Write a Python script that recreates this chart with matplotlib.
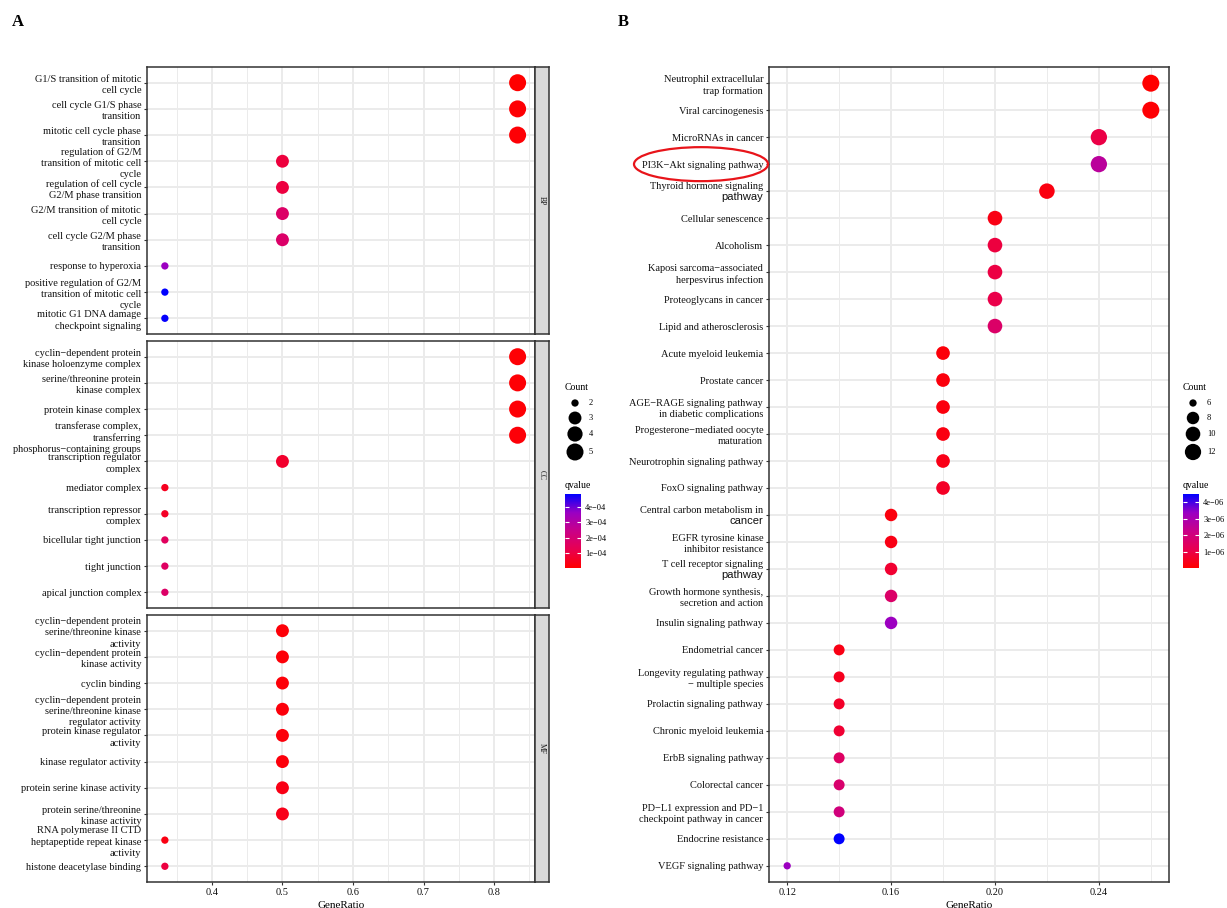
import numpy as np
import matplotlib
matplotlib.use('Agg')
import matplotlib.pyplot as plt
from matplotlib.colors import LinearSegmentedColormap, Normalize
from matplotlib.cm import ScalarMappable
from matplotlib.patches import Ellipse

plt.rcParams['font.family'] = ['Liberation Serif', 'DejaVu Serif']

# ---- A: GO enrichment (BP / CC / MF), 6 genes in total ----
go_total = 6
bp_terms = ["G1/S transition of mitotic\ncell cycle", "cell cycle G1/S phase\ntransition",
            "mitotic cell cycle phase\ntransition", "regulation of G2/M\ntransition of mitotic cell\ncycle",
            "regulation of cell cycle\nG2/M phase transition", "G2/M transition of mitotic\ncell cycle",
            "cell cycle G2/M phase\ntransition", "response to hyperoxia",
            "positive regulation of G2/M\ntransition of mitotic cell\ncycle",
            "mitotic G1 DNA damage\ncheckpoint signaling"]
bp_count = [5, 5, 5, 3, 3, 3, 3, 2, 2, 2]
bp_q = [0.02e-4, 0.08e-4, 0.1e-4, 0.95e-4, 1.0e-4, 1.7e-4, 1.75e-4, 3.6e-4, 4.85e-4, 4.8e-4]

cc_terms = ["cyclin\u2212dependent protein\nkinase holoenzyme complex", "serine/threonine protein\nkinase complex",
            "protein kinase complex", "transferase complex,\ntransferring\nphosphorus\u2212containing groups",
            "transcription regulator\ncomplex", "mediator complex", "transcription repressor\ncomplex",
            "bicellular tight junction", "tight junction", "apical junction complex"]
cc_count = [5, 5, 5, 5, 3, 2, 2, 2, 2, 2]
cc_q = [0.1e-4, 0.1e-4, 0.1e-4, 0.15e-4, 0.7e-4, 0.5e-4, 0.6e-4, 1.5e-4, 1.6e-4, 1.7e-4]

mf_terms = ["cyclin\u2212dependent protein\nserine/threonine kinase\nactivity", "cyclin\u2212dependent protein\nkinase activity",
            "cyclin binding", "cyclin\u2212dependent protein\nserine/threonine kinase\nregulator activity",
            "protein kinase regulator\nactivity", "kinase regulator activity", "protein serine kinase activity",
            "protein serine/threonine\nkinase activity", "RNA polymerase II CTD\nheptapeptide repeat kinase\nactivity",
            "histone deacetylase binding"]
mf_count = [3, 3, 3, 3, 3, 3, 3, 3, 2, 2]
mf_q = [0.15e-4, 0.15e-4, 0.15e-4, 0.2e-4, 0.2e-4, 0.2e-4, 0.35e-4, 0.4e-4, 0.3e-4, 1.0e-4]

go_xticks = [0.4, 0.5, 0.6, 0.7, 0.8]
go_size_breaks = [2, 3, 4, 5]
go_q_breaks = [1e-4, 2e-4, 3e-4, 4e-4]
go_q_labels = ["1e\u221204", "2e\u221204", "3e\u221204", "4e\u221204"]

# ---- B: KEGG enrichment, 50 genes in total ----
kegg_total = 50
kegg_terms = ["Neutrophil extracellular\ntrap formation", "Viral carcinogenesis", "MicroRNAs in cancer",
              "PI3K\u2212Akt signaling pathway", "Thyroid hormone signaling\npathway", "Cellular senescence",
              "Alcoholism", "Kaposi sarcoma\u2212associated\nherpesvirus infection", "Proteoglycans in cancer",
              "Lipid and atherosclerosis", "Acute myeloid leukemia", "Prostate cancer",
              "AGE\u2212RAGE signaling pathway\nin diabetic complications",
              "Progesterone\u2212mediated oocyte\nmaturation", "Neurotrophin signaling pathway",
              "FoxO signaling pathway", "Central carbon metabolism in\ncancer",
              "EGFR tyrosine kinase\ninhibitor resistance", "T cell receptor signaling\npathway",
              "Growth hormone synthesis,\nsecretion and action", "Insulin signaling pathway",
              "Endometrial cancer", "Longevity regulating pathway\n\u2212 multiple species",
              "Prolactin signaling pathway", "Chronic myeloid leukemia", "ErbB signaling pathway",
              "Colorectal cancer", "PD\u2212L1 expression and PD\u22121\ncheckpoint pathway in cancer",
              "Endocrine resistance", "VEGF signaling pathway"]
kegg_count = [13, 13, 12, 12, 11, 10, 10, 10, 10, 10, 9, 9, 9, 9, 9, 9,
              8, 8, 8, 8, 8, 7, 7, 7, 7, 7, 7, 7, 7, 6]
kegg_q = [0.02e-6, 0.08e-6, 1.0e-6, 2.6e-6, 0.25e-6, 0.3e-6, 0.9e-6, 0.95e-6, 1.05e-6, 1.6e-6,
          0.15e-6, 0.2e-6, 0.2e-6, 0.25e-6, 0.35e-6, 0.55e-6, 0.2e-6, 0.3e-6, 0.7e-6, 1.6e-6,
          3.3e-6, 0.3e-6, 0.45e-6, 0.6e-6, 0.75e-6, 1.5e-6, 1.7e-6, 2.0e-6, 4.48e-6, 3.3e-6]
kegg_xticks = [0.12, 0.16, 0.20, 0.24]
kegg_size_breaks = [6, 8, 10, 12]
kegg_q_breaks = [1e-6, 2e-6, 3e-6, 4e-6]
kegg_q_labels = ["1e\u221206", "2e\u221206", "3e\u221206", "4e\u221206"]
# labels whose second line was typeset in a sans font in the original figure
sans_tail_terms = ["Thyroid hormone signaling\npathway",
                   "Central carbon metabolism in\ncancer",
                   "T cell receptor signaling\npathway"]

# red -> blue through Lab space (like ggplot scale_colour_gradient)
cmap = LinearSegmentedColormap.from_list("rb", ["#FF0000", "#E80050", "#C90088", "#9A00C3", "#0000FF"])

W, H = 1227, 908
fig = plt.figure(figsize=(W / 100, H / 100), dpi=100)


def box(x0, y0, x1, y1):
    return [x0 / W, 1 - y1 / H, (x1 - x0) / W, (y1 - y0) / H]


def dot_area(c, cmin, cmax):
    d = 7.3 + 9.7 * np.sqrt((np.asarray(c, float) - cmin) / (cmax - cmin))
    return (d * 0.72) ** 2


FS = 7.5
LS = 1.32
GRID = '#EBEBEB'
DARK = '#333333'


def dot_panel(ax, terms, ratio, count, q, norm, cmin, cmax, xlim, xticks, minor):
    n = len(terms)
    y = np.arange(n)
    ax.set_facecolor('white')
    for t in xticks:
        ax.axvline(t, color=GRID, lw=1.4, zorder=0)
    for t in minor:
        ax.axvline(t, color=GRID, lw=0.7, zorder=0)
    for yy in y:
        ax.axhline(yy, color=GRID, lw=1.4, zorder=0)
    ax.scatter(ratio, y, s=dot_area(count, cmin, cmax), c=q, cmap=cmap, norm=norm,
               edgecolors='none', zorder=3)
    ax.set_xlim(*xlim)
    ax.set_ylim(n - 1 + 0.6, -0.6)
    ax.set_yticks(y)
    ax.set_yticklabels(terms, fontsize=FS, linespacing=LS)
    ax.set_xticks(xticks)
    for s in ax.spines.values():
        s.set_color(DARK)
        s.set_linewidth(1.1)
    ax.tick_params(length=2.2, width=0.8, color=DARK, pad=2, labelsize=FS, labelcolor='#111111')


# ---------- panel A ----------
go_norm = Normalize(min(bp_q + cc_q + mf_q), max(bp_q + cc_q + mf_q))
go_xlim = (0.308, 0.858)
go_minor = [0.35, 0.45, 0.55, 0.65, 0.75, 0.85]
panels = [(bp_terms, bp_count, bp_q, "BP", 67, 334),
          (cc_terms, cc_count, cc_q, "CC", 341, 608),
          (mf_terms, mf_count, mf_q, "MF", 615, 882)]
for terms, count, q, name, y0, y1 in panels:
    ax = fig.add_axes(box(147, y0, 535, y1))
    ratio = np.array(count) / go_total
    dot_panel(ax, terms, ratio, count, q, go_norm, 2, 5, go_xlim, go_xticks, go_minor)
    if name != "MF":
        ax.tick_params(axis='x', length=0, labelbottom=False)
    else:
        ax.set_xticklabels([f"{t:.1f}" for t in go_xticks])
        ax.set_xlabel("GeneRatio", fontsize=8, labelpad=3)
    sax = fig.add_axes(box(535, y0, 549, y1))
    sax.set_facecolor('#D9D9D9')
    sax.set_xticks([])
    sax.set_yticks([])
    for s in sax.spines.values():
        s.set_color(DARK)
        s.set_linewidth(1.1)
    sax.text(0.5, 0.5, name, rotation=-90, ha='center', va='center', fontsize=5.5,
             color='#1a1a1a', transform=sax.transAxes)

# ---------- panel B ----------
kegg_norm = Normalize(min(kegg_q), max(kegg_q))
axb = fig.add_axes(box(769, 67, 1169, 882))
kegg_ratio = np.array(kegg_count) / kegg_total
dot_panel(axb, kegg_terms, kegg_ratio, kegg_count, kegg_q, kegg_norm, 6, 13,
          (0.113, 0.267), kegg_xticks, [0.14, 0.18, 0.22, 0.26])
axb.set_xticklabels([f"{t:.2f}" for t in kegg_xticks])
axb.set_xlabel("GeneRatio", fontsize=8, labelpad=3)

# these labels are drawn line by line: serif first line, sans second line
axb.set_yticklabels(["" if t in sans_tail_terms else t for t in kegg_terms], fontsize=FS, linespacing=LS)
for t in sans_tail_terms:
    i = kegg_terms.index(t)
    head, tail = t.split("\n")
    axb.annotate(head, xy=(0, i), xycoords=axb.get_yaxis_transform(),
                 xytext=(-4.2, 3.5), textcoords='offset points', ha='right', va='center',
                 fontsize=FS, color='#111111')
    axb.annotate(tail, xy=(0, i), xycoords=axb.get_yaxis_transform(),
                 xytext=(-4.2, -4.4), textcoords='offset points', ha='right', va='center',
                 fontsize=FS + 0.5, family='Liberation Sans', color='#111111')

# ---------- overlay: panel letters, legends, highlight ----------
ov = fig.add_axes([0, 0, 1, 1])
ov.set_xlim(0, W)
ov.set_ylim(H, 0)
ov.axis('off')
ov.patch.set_alpha(0)

ov.text(18, 22, "A", fontsize=12, fontweight='bold', ha='center', va='center')
ov.text(623, 22, "B", fontsize=12, fontweight='bold', ha='center', va='center')

key_y = [403, 418, 434, 452]


def size_legend(x0, breaks, cmin, cmax):
    ov.text(x0, 387, "Count", fontsize=7, ha='left', va='center')
    ov.scatter([x0 + 10] * len(breaks), key_y, s=dot_area(breaks, cmin, cmax), color='black',
               edgecolors='none')
    for b, yy in zip(breaks, key_y):
        ov.text(x0 + 24, yy, str(b), fontsize=6, ha='left', va='center')


def colour_legend(x0, norm, breaks, blabels):
    ov.text(x0, 486, "qvalue", fontsize=7, ha='left', va='center')
    cax = fig.add_axes(box(x0, 494, x0 + 16, 568))
    cb = fig.colorbar(ScalarMappable(norm=norm, cmap=cmap), cax=cax)
    cb.outline.set_visible(False)
    cb.set_ticks(breaks)
    cb.set_ticklabels(blabels)
    cax.yaxis.set_ticks_position('both')
    cax.tick_params(which='both', direction='in', color='white', length=3, width=0.8,
                    labelsize=6, labelleft=False, labelright=True, pad=3)
    cax.minorticks_off()


size_legend(565, go_size_breaks, 2, 5)
colour_legend(565, go_norm, go_q_breaks, go_q_labels)
size_legend(1183, kegg_size_breaks, 6, 13)
colour_legend(1183, kegg_norm, kegg_q_breaks, kegg_q_labels)

# red ring round the PI3K-Akt label
pi3k_row = kegg_terms.index("PI3K\u2212Akt signaling pathway")
ring_y = H - axb.transData.transform((0.12, pi3k_row))[1]
ov.add_patch(Ellipse((701, ring_y), 134, 34, fill=False, edgecolor='#E8141A', lw=1.6))

fig.savefig("out.png", dpi=100)
